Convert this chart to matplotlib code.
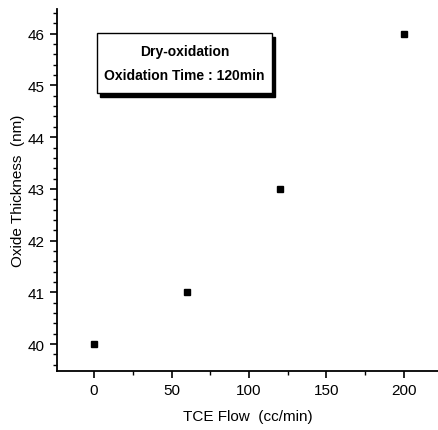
import matplotlib
matplotlib.use("Agg")
import matplotlib.pyplot as plt
from matplotlib.ticker import MultipleLocator
from matplotlib.patches import Rectangle

tce_flow = [0, 60, 120, 200]
oxide_nm = [40.0, 41.0, 43.0, 46.0]

plt.rcParams["font.family"] = ["Liberation Sans", "DejaVu Sans"]

fig = plt.figure(figsize=(4.38, 4.31), dpi=100)
ax = fig.add_axes([0.130, 0.137, 0.87, 0.84])

ax.plot(tce_flow, oxide_nm, ls="none", marker="s", ms=5, color="black")

ax.set_xlim(-24, 222)
ax.set_ylim(39.48, 46.48)
ax.xaxis.set_major_locator(MultipleLocator(50))
ax.xaxis.set_minor_locator(MultipleLocator(25))
ax.yaxis.set_major_locator(MultipleLocator(1))
ax.yaxis.set_minor_locator(MultipleLocator(0.2))
ax.tick_params(which="major", direction="out", length=5, width=1.2, labelsize=11, pad=4)
ax.tick_params(which="minor", direction="out", length=3, width=1)
for s in ("top", "right"):
    ax.spines[s].set_visible(False)
for s in ("left", "bottom"):
    ax.spines[s].set_linewidth(1.3)

ax.set_xlabel("TCE Flow  (cc/min)", fontsize=11, labelpad=8)
ax.set_ylabel("Oxide Thickness  (nm)", fontsize=11, labelpad=2)

# shadowed annotation box
bx0, by0, bw, bh = 0.105, 0.768, 0.46, 0.166
ax.add_patch(Rectangle((bx0 + 0.008, by0 - 0.011), bw, bh, transform=ax.transAxes,
                       facecolor="black", edgecolor="black", zorder=3))
ax.add_patch(Rectangle((bx0, by0), bw, bh, transform=ax.transAxes,
                       facecolor="white", edgecolor="black", lw=1, zorder=4))
ax.text(bx0 + bw / 2, by0 + bh * 0.70, "Dry-oxidation", transform=ax.transAxes,
        ha="center", va="center", fontsize=10, fontweight="bold", zorder=5)
ax.text(bx0 + bw / 2, by0 + bh * 0.30, "Oxidation Time : 120min", transform=ax.transAxes,
        ha="center", va="center", fontsize=10, fontweight="bold", zorder=5)

fig.savefig("out.png", dpi=100, facecolor="white")
